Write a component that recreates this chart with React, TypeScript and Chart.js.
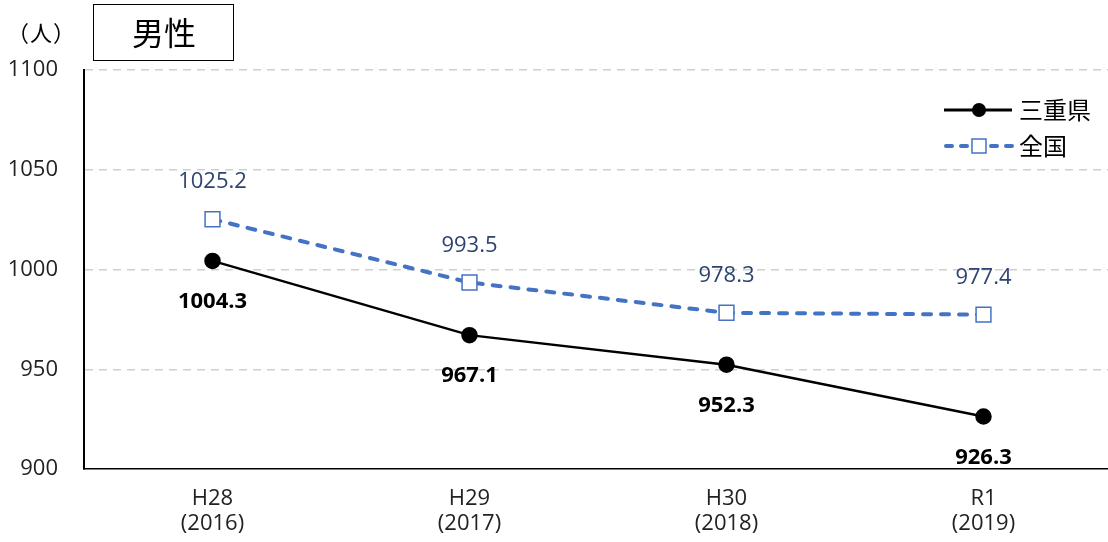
import React, { useEffect, useRef } from "react";
import { Chart, registerables } from "chart.js";
Chart.register(...registerables);

const categories: string[][] = [["H28", "(2016)"], ["H29", "(2017)"], ["H30", "(2018)"], ["R1", "(2019)"]];
const mieValues = [1004.3, 967.1, 952.3, 926.3];
const zenkokuValues = [1025.2, 993.5, 978.3, 977.4];
const seriesNames = ["三重県", "全国"];
const yTicks = [900, 950, 1000, 1050, 1100];
const titleText = "男性";
const unitText = "（人）";

const NUM_FONT = "'Open Sans', 'Noto Sans', sans-serif";
const JP_FONT = "'Noto Sans CJK JP', sans-serif";
const BLUE = "#4472C4";
const NAVY = "#2E4470";

const overlay = {
  id: "overlay",
  afterDatasetsDraw(chart: any) {
    const ctx = chart.ctx;
    const m0 = chart.getDatasetMeta(0);
    const m1 = chart.getDatasetMeta(1);
    ctx.save();
    ctx.textAlign = "center";
    ctx.textBaseline = "middle";
    ctx.font = `bold 22px ${NUM_FONT}`;
    ctx.fillStyle = "#000";
    m0.data.forEach((p: any, i: number) => {
      ctx.fillText(mieValues[i].toFixed(1), p.x, p.y + 41);
    });
    ctx.font = `22px ${NUM_FONT}`;
    ctx.fillStyle = NAVY;
    m1.data.forEach((p: any, i: number) => {
      ctx.fillText(zenkokuValues[i].toFixed(1), p.x, p.y - 37);
    });

    // title box
    ctx.fillStyle = "#fff";
    ctx.fillRect(93, 4, 140, 56);
    ctx.strokeStyle = "#000";
    ctx.lineWidth = 1;
    ctx.strokeRect(93.5, 4.5, 140, 56);
    ctx.fillStyle = "#000";
    ctx.font = `32px ${JP_FONT}`;
    ctx.fillText(titleText, 164, 33);
    ctx.font = `22px ${JP_FONT}`;
    const chars = Array.from(unitText);
    const xs = [18, 41, 64];
    chars.forEach((c, i) => ctx.fillText(c, xs[i], 33));

    // legend
    const lx0 = 944, lx1 = 1012, lcx = 979;
    ctx.textAlign = "left";
    ctx.font = `24px ${JP_FONT}`;
    ctx.strokeStyle = "#000";
    ctx.lineWidth = 3;
    ctx.beginPath();
    ctx.moveTo(lx0, 110);
    ctx.lineTo(lx1, 110);
    ctx.stroke();
    ctx.fillStyle = "#000";
    ctx.beginPath();
    ctx.arc(lcx, 110, 7, 0, Math.PI * 2);
    ctx.fill();
    ctx.fillText(seriesNames[0], 1019, 110);
    ctx.strokeStyle = BLUE;
    ctx.lineWidth = 4;
    ctx.lineCap = "round";
    ctx.setLineDash([6, 9]);
    ctx.beginPath();
    ctx.moveTo(lx0 + 2, 146);
    ctx.lineTo(lx1, 146);
    ctx.stroke();
    ctx.setLineDash([]);
    ctx.fillStyle = "#fff";
    ctx.fillRect(lcx - 7, 139, 14, 14);
    ctx.lineWidth = 1.5;
    ctx.strokeRect(lcx - 7, 139, 14, 14);
    ctx.fillStyle = "#000";
    ctx.fillText(seriesNames[1], 1019, 146);
    ctx.restore();
  },
};

export default function App() {
  const ref = useRef<HTMLCanvasElement>(null);
  useEffect(() => {
    if (!ref.current) return;
    const chart = new Chart(ref.current, {
      type: "line",
      data: {
        labels: categories,
        datasets: [
          {
            label: seriesNames[0],
            data: mieValues,
            borderColor: "#000",
            backgroundColor: "#000",
            borderWidth: 2.5,
            pointStyle: "circle",
            pointRadius: 7,
            pointBackgroundColor: "#000",
            pointBorderColor: "#000",
            tension: 0,
          },
          {
            label: seriesNames[1],
            data: zenkokuValues,
            borderColor: BLUE,
            borderWidth: 4,
            borderDash: [8, 10],
            borderCapStyle: "round",
            pointStyle: "rect",
            pointRadius: 10.5,
            pointBorderWidth: 1.5,
            pointBackgroundColor: "#fff",
            pointBorderColor: BLUE,
            tension: 0,
          },
        ],
      },
      options: {
        animation: false,
        responsive: false,
        maintainAspectRatio: false,
        layout: { padding: { top: 70, left: 0, right: 0, bottom: 0 } },
        plugins: { legend: { display: false }, tooltip: { enabled: false } },
        scales: {
          x: {
            offset: true,
            grid: { display: false, drawTicks: false },
            border: { color: "#000", width: 1.5 },
            ticks: {
              color: "#222",
              font: { family: NUM_FONT, size: 22, lineHeight: 1.15 },
              padding: 17,
              maxRotation: 0,
            },
            afterFit(scale: any) {
              scale.height = 73;
            },
          },
          y: {
            min: 900,
            max: 1100,
            afterBuildTicks(scale: any) {
              scale.ticks = yTicks.map((v) => ({ value: v }));
            },
            grid: {
              color: (c: any) => (c.tick && c.tick.value === 900 ? "rgba(0,0,0,0)" : "#D0D0D0"),
              lineWidth: 1.5,
              drawTicks: false,
            },
            border: { color: "#000", width: 2, dash: [8, 6] },
            ticks: {
              color: "#222",
              font: { family: NUM_FONT, size: 22 },
              padding: 26,
              callback: (v: any) => String(v),
            },
            afterFit(scale: any) {
              scale.width = 84;
            },
          },
        },
      } as any,
      plugins: [overlay],
    });
    return () => chart.destroy();
  }, []);
  return (
    <div style={{ position: "fixed", left: 0, top: 0, width: 1108, height: 542, overflow: "hidden", background: "#fff" }}>
      <canvas ref={ref} width={1124} height={542} style={{ display: "block" }} />
    </div>
  );
}
